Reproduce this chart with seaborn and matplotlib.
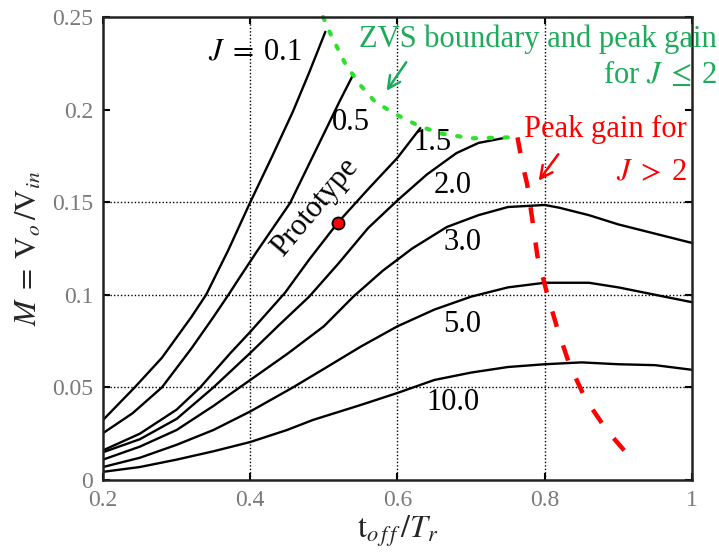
import numpy as np
import pandas as pd
import matplotlib
matplotlib.use("Agg")
import matplotlib.pyplot as plt
import seaborn as sns

# gain curves M = Vo/Vin vs toff/Tr, one per J
J_values = ["0.1", "0.5", "1.5", "2.0", "3.0", "5.0", "10.0"]

t_j01 = [0.20, 0.243, 0.28, 0.32, 0.34, 0.37, 0.40, 0.43, 0.458, 0.48, 0.502]
m_j01 = [0.0324, 0.05, 0.066, 0.088, 0.100, 0.124, 0.150, 0.175, 0.199, 0.220, 0.242]

t_j05 = [0.20, 0.24, 0.28, 0.32, 0.35, 0.372, 0.386, 0.41, 0.454, 0.50, 0.522, 0.54]
m_j05 = [0.0253, 0.036, 0.050, 0.071, 0.088, 0.101, 0.1096, 0.124, 0.1495, 0.187, 0.205, 0.219]

t_j15 = [0.20, 0.25, 0.30, 0.332, 0.373, 0.40, 0.447, 0.48, 0.519, 0.56, 0.60, 0.631]
m_j15 = [0.016, 0.025, 0.038, 0.050, 0.0685, 0.080, 0.101, 0.119, 0.139, 0.157, 0.174, 0.190]

t_j20 = [0.20, 0.25, 0.30, 0.35, 0.40, 0.44, 0.48, 0.52, 0.56, 0.60, 0.64, 0.68, 0.71, 0.749]
m_j20 = [0.015, 0.022, 0.033, 0.050, 0.0686, 0.084, 0.099, 0.117, 0.136, 0.151, 0.165, 0.1765, 0.182, 0.185]

t_j30 = [0.20, 0.25, 0.30, 0.35, 0.40, 0.45, 0.50, 0.54, 0.58, 0.62, 0.667, 0.71, 0.75, 0.80, 0.82, 0.86, 0.90, 0.95, 1.00]
m_j30 = [0.011, 0.018, 0.027, 0.040, 0.054, 0.068, 0.083, 0.099, 0.113, 0.125, 0.1366, 0.143, 0.1474, 0.1485, 0.147, 0.143, 0.138, 0.133, 0.128]

t_j50 = [0.20, 0.25, 0.30, 0.35, 0.40, 0.458, 0.50, 0.55, 0.60, 0.65, 0.70, 0.75, 0.80, 0.86, 0.90, 0.95, 1.00]
m_j50 = [0.007, 0.012, 0.019, 0.027, 0.037, 0.050, 0.060, 0.072, 0.083, 0.092, 0.099, 0.104, 0.1065, 0.1065, 0.104, 0.100, 0.096]

t_j10 = [0.20, 0.25, 0.30, 0.35, 0.40, 0.45, 0.485, 0.55, 0.60, 0.65, 0.70, 0.75, 0.80, 0.85, 0.90, 0.95, 1.00]
m_j10 = [0.0044, 0.007, 0.011, 0.0155, 0.0205, 0.027, 0.0324, 0.0405, 0.047, 0.054, 0.058, 0.061, 0.0625, 0.0635, 0.0625, 0.062, 0.0595]

# ZVS boundary / peak gain for J <= 2 (green dotted)
t_zvs = [0.499, 0.51, 0.53, 0.55, 0.57, 0.60, 0.63, 0.66, 0.70, 0.75]
m_zvs = [0.250, 0.240, 0.224, 0.213, 0.204, 0.197, 0.191, 0.187, 0.1845, 0.185]

# peak gain for J > 2 (red dashed)
t_peak = [0.763, 0.770, 0.776, 0.783, 0.790, 0.803, 0.817, 0.833, 0.855, 0.884, 0.910]
m_peak = [0.185, 0.170, 0.160, 0.141, 0.121, 0.101, 0.082, 0.063, 0.044, 0.027, 0.015]

# prototype operating point
t_proto = [0.519]
m_proto = [0.1388]

x_ticks = [0.2, 0.4, 0.6, 0.8, 1.0]
x_ticklabels = ["0.2", "0.4", "0.6", "0.8", "1"]
y_ticks = [0, 0.05, 0.1, 0.15, 0.2, 0.25]
y_ticklabels = ["0", "0.05", "0.1", "0.15", "0.2", "0.25"]
x_grid = [0.4, 0.6, 0.8]
y_grid = [0.05, 0.1, 0.15]

curves = [(t_j01, m_j01), (t_j05, m_j05), (t_j15, m_j15), (t_j20, m_j20),
          (t_j30, m_j30), (t_j50, m_j50), (t_j10, m_j10)]
frames = []
for j, (t, m) in zip(J_values, curves):
    frames.append(pd.DataFrame({"t": t, "M": m, "J": j}))
df = pd.concat(frames, ignore_index=True)

sns.set_theme(style="ticks")
plt.rcParams["font.family"] = ["Liberation Serif", "DejaVu Serif"]
plt.rcParams["mathtext.fontset"] = "stix"

fig, ax = plt.subplots(figsize=(7.19, 5.54), dpi=100)
fig.subplots_adjust(left=0.1433, right=0.9624, bottom=0.1336, top=0.9693)

for g in x_grid:
    ax.axvline(g, color="black", lw=1.0, ls=(0, (1, 1.5)), zorder=0)
for g in y_grid:
    ax.axhline(g, color="black", lw=1.0, ls=(0, (1, 1.5)), zorder=0)

sns.lineplot(data=df, x="t", y="M", hue="J", palette=["black"] * len(J_values),
             estimator=None, sort=False, legend=False, lw=1.7, ax=ax)

sns.lineplot(x=t_zvs, y=m_zvs, color="#2ee02e", lw=3.0, estimator=None, sort=False,
             linestyle=(0, (0.8, 3.0)), dash_capstyle="round", ax=ax, clip_on=False)
sns.lineplot(x=t_peak, y=m_peak, color="#ff0000", lw=3.2, estimator=None, sort=False,
             linestyle=(0, (3.6, 4.4)), ax=ax)
sns.scatterplot(x=t_proto, y=m_proto, color="#ff0000", edgecolor="black", linewidth=1.3,
                s=75, zorder=5, ax=ax)

ax.set_xlim(0.2, 1.0)
ax.set_ylim(0, 0.25)
ax.set_xticks(x_ticks)
ax.set_xticklabels(x_ticklabels)
ax.set_yticks(y_ticks)
ax.set_yticklabels(y_ticklabels)
ax.tick_params(direction="in", length=5, width=1.5, color="black", labelcolor="#7a7a7a",
               labelsize=17, top=True, right=True, pad=7)
for sp in ax.spines.values():
    sp.set_color("#222222")
    sp.set_linewidth(1.8)

ax.set_xlabel(r"$\mathrm{t}_{o\,f\,f}\,/T_r$", fontsize=23, labelpad=2)
ax.set_ylabel(r"$M\;=\;\mathrm{V}_o\,/\mathrm{V}_{in}$", fontsize=22, labelpad=6)

lab = dict(fontsize=22, color="black", ha="center", va="center")
ax.text(0.406, 0.231, r"$J\;=\;$0.1", **lab)
ax.text(0.536, 0.193, "0.5", **lab)
ax.text(0.648, 0.1825, "1.5", **lab)
ax.text(0.675, 0.159, "2.0", **lab)
ax.text(0.688, 0.128, "3.0", **lab)
ax.text(0.688, 0.0837, "5.0", **lab)
ax.text(0.675, 0.042, "10.0", **lab)
ax.text(0.488, 0.147, "Prototype", rotation=50, **lab)

green = "#1daa5a"
ax.text(1.034, 0.2338, "ZVS boundary and peak gain", color=green, fontsize=22,
        ha="right", va="baseline", clip_on=False)
ax.text(1.034, 0.2144, r"for $J\;\leq\;$2", color=green, fontsize=22,
        ha="right", va="baseline", clip_on=False)
ax.annotate("", xy=(0.583, 0.2089), xytext=(0.614, 0.2268),
            arrowprops=dict(arrowstyle="->", color=green, lw=1.8, mutation_scale=22))

ax.text(0.993, 0.185, "Peak gain for", color="#ff0000", fontsize=22,
        ha="right", va="baseline")
ax.text(0.993, 0.162, r"$J\;>\;$2", color="#ff0000", fontsize=22,
        ha="right", va="baseline")
ax.annotate("", xy=(0.7895, 0.1604), xytext=(0.8207, 0.1771),
            arrowprops=dict(arrowstyle="->", color="#ff0000", lw=1.8, mutation_scale=22))

plt.savefig("out.png", dpi=100)
